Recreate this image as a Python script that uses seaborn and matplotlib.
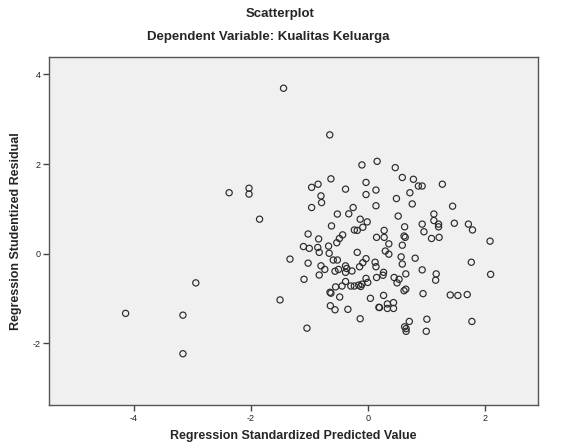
import matplotlib
matplotlib.use("Agg")
import matplotlib.pyplot as plt
import seaborn as sns
import pandas as pd

# Regression standardized predicted value (x) / studentized residual (y)
pred = [-1.44, -2.37, -2.03, -2.03, -1.85, -1.33, -2.94, -4.14, -3.16, -1.50, -3.16,
        -0.65, -0.10, 0.16, 0.47, -0.63, 0.59, 0.78, -0.96, -0.85, -0.38,
        -0.03, 0.14, -0.03, 0.865, 0.93, 1.275, 0.72, -0.80, -0.79, -0.96,
        0.49, 0.76, 0.14, 1.45, -0.52, -0.325, -0.25, 0.52, 1.13, 1.13,
        1.21, 1.21, 1.48, 1.72, 1.79, -0.13, -0.01, -0.62, -0.085, -0.23,
        -0.18, 0.28, 0.63, 0.93, 0.62, 0.64, 0.96, 1.09, 1.22, 2.09,
        -1.02, -0.84, -1.10, -1.00, -0.855, -0.83, -0.67, -0.66, -0.53, -0.485,
        -0.43, -0.18, 0.15, 0.28, 0.36, 0.30, 0.36, 0.59, 0.57, 0.59,
        0.81, -1.02, -0.59, -0.52, -0.03, -0.085, -0.14, 0.125, 0.14, -0.80,
        -0.735, -0.83, -0.56, -0.50, -0.38, -0.36, -0.38, -0.27, -1.09, 0.27,
        0.26, 0.15, 0.65, 0.45, 0.535, 0.50, 0.93, 1.17, 1.16, 1.77,
        2.10, -0.38, -0.29, -0.23, -0.155, -0.10, -0.03, 0.0, -0.44, -0.12,
        -0.55, -0.645, -0.63, -0.48, -0.64, -0.56, -0.34, 0.045, 0.27, 0.19,
        0.20, 0.335, 0.335, 0.44, 0.44, 0.62, 0.65, 0.945, 1.41, 1.54,
        1.70, -0.13, -1.04, 0.71, 1.01, 0.63, 0.655, 0.655, 1.00, 1.78]
resid = [3.69, 1.36, 1.46, 1.33, 0.77, -0.12, -0.65, -1.33, -1.37, -1.03, -2.23,
         2.65, 1.98, 2.06, 1.92, 1.67, 1.70, 1.66, 1.48, 1.55, 1.44,
         1.59, 1.42, 1.32, 1.51, 1.51, 1.55, 1.36, 1.29, 1.14, 1.03,
         1.23, 1.11, 1.07, 1.06, 0.885, 0.89, 1.03, 0.84, 0.885, 0.74,
         0.66, 0.60, 0.68, 0.66, 0.53, 0.77, 0.71, 0.62, 0.59, 0.53,
         0.52, 0.52, 0.60, 0.66, 0.395, 0.365, 0.49, 0.34, 0.365, 0.28,
         0.44, 0.33, 0.16, 0.12, 0.14, 0.03, 0.17, 0.01, 0.245, 0.34,
         0.42, 0.03, 0.365, 0.365, 0.22, 0.06, -0.01, 0.19, -0.07, -0.23,
         -0.10, -0.21, -0.14, -0.14, -0.11, -0.20, -0.29, -0.19, -0.29, -0.27,
         -0.35, -0.475, -0.39, -0.35, -0.27, -0.33, -0.415, -0.385, -0.57, -0.415,
         -0.48, -0.53, -0.45, -0.53, -0.57, -0.65, -0.36, -0.45, -0.59, -0.19,
         -0.46, -0.62, -0.72, -0.72, -0.70, -0.68, -0.55, -0.64, -0.72, -0.73,
         -0.74, -0.86, -0.88, -0.965, -1.16, -1.25, -1.24, -0.995, -0.93, -1.195,
         -1.20, -1.12, -1.22, -1.09, -1.22, -0.825, -0.79, -0.89, -0.92, -0.93,
         -0.91, -1.45, -1.66, -1.51, -1.46, -1.63, -1.67, -1.73, -1.73, -1.51]

x_ticks = [-4, -2, 0, 2]
y_ticks = [-2, 0, 2, 4]

df = pd.DataFrame({"pred": pred, "resid": resid})

sns.set_style("white")
plt.rcParams['font.family'] = ['Liberation Sans', 'DejaVu Sans']
plt.rcParams['axes.unicode_minus'] = False

fig = plt.figure(figsize=(5.61, 4.48), dpi=100)
ax = fig.add_axes([0.0873, 0.0953, 0.8717, 0.7768])
ax.set_facecolor("#f0f0f0")

sns.scatterplot(data=df, x="pred", y="resid", ax=ax, marker="o", s=20,
                facecolors="none", edgecolors="#2a2a2a", linewidth=0.85)

ax.set_xlim(-5.45, 2.91)
ax.set_ylim(-3.38, 4.38)
ax.set_xticks(x_ticks)
ax.set_yticks(y_ticks)
ax.tick_params(axis="both", direction="out", length=4, width=1, color="#444444",
               labelsize=6.5, pad=2, labelcolor="#222222", bottom=True, left=True)
for sp in ax.spines.values():
    sp.set_color("#555555")
    sp.set_linewidth(1.0)

ax.set_xlabel("Regression Standardized Predicted Value", fontsize=9, fontweight="bold", labelpad=5)
ax.set_ylabel("Regression Studentized Residual", fontsize=9, fontweight="bold", labelpad=8)

fig.text(0.5, 1 - 14 / 448, "Scatterplot", ha="center", va="center", fontsize=9.5, fontweight="bold")
fig.text(0.479, 1 - 37 / 448, "Dependent Variable: Kualitas Keluarga", ha="center", va="center",
         fontsize=9.5, fontweight="bold")

plt.savefig("out.png", dpi=100)
